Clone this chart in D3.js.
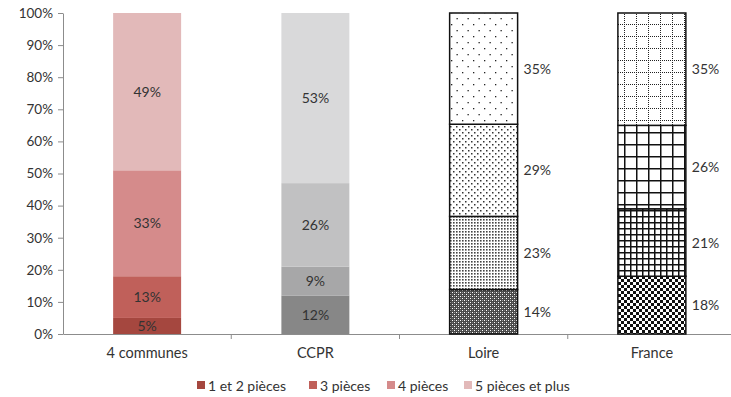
<!DOCTYPE html>
<html>
<head>
<meta charset="utf-8">
<script src="https://cdn.jsdelivr.net/npm/d3@7/dist/d3.min.js"></script>
<style>
  html, body { margin: 0; padding: 0; background: #fff; }
  svg { display: block; font-family: Lato, "Open Sans", sans-serif; }
</style>
</head>
<body>
<svg id="chart" width="731" height="397"></svg>
<script>
// Répartition des résidences principales selon le nombre de pièces
const categories = ["4 communes", "CCPR", "Loire", "France"];
const series = ["1 et 2 pièces", "3 pièces", "4 pièces", "5 pièces et plus"];
const v12 = [5, 12, 14, 18];
const v3 = [13, 9, 23, 21];
const v4 = [33, 26, 29, 26];
const v5 = [49, 53, 35, 35];
const yTicks = [0, 0.1, 0.2, 0.3, 0.4, 0.5, 0.6, 0.7, 0.8, 0.9, 1];

const legendColors = ["#a5473f", "#c0605a", "#d58b8b", "#e2b9b9"];
const grayColors = ["#878787", "#a7a7a8", "#c1c1c2", "#d9d9da"];

const svg = d3.select("#chart");
const W = 731, H = 397;
const margin = { left: 63, right: -5, top: 13, bottom: 63 };

const rows = categories.map((c, i) => ({
  cat: c, s0: v12[i], s1: v3[i], s2: v4[i], s3: v5[i]
}));
const keys = ["s0", "s1", "s2", "s3"];
const stacked = d3.stack().keys(keys).offset(d3.stackOffsetExpand)(rows);

const x = d3.scaleBand().domain(categories)
  .range([margin.left, W - margin.right])
  .paddingInner(0.596).paddingOuter(0.298);
const y = d3.scaleLinear().domain([0, 1]).range([H - margin.bottom, margin.top]);

// ---- patterns used for the Loire and France bars ----
const defs = svg.append("defs");
function pat(id, w, h, draw) {
  const p = defs.append("pattern").attr("id", id)
    .attr("patternUnits", "userSpaceOnUse").attr("width", w).attr("height", h);
  p.append("rect").attr("width", w).attr("height", h).attr("fill", "#fff");
  draw(p);
}
function dot(p, x0, y0, s, c) {
  p.append("rect").attr("x", x0).attr("y", y0).attr("width", s).attr("height", s).attr("fill", c);
}
// Loire
pat("lo0", 4, 4, p => {
  p.append("rect").attr("width", 4).attr("height", 4).attr("fill", "#4a4a4a");
  dot(p, 0, 0, 1, "#fff");
  dot(p, 2, 2, 1, "#fff");
  dot(p, 2, 0, 1, "#999");
  dot(p, 0, 2, 1, "#777");
});
pat("lo1", 3, 3, p => {
  dot(p, 0, 0, 1.6, "#444");
});
pat("lo2", 6, 6, p => {
  dot(p, 0, 0, 1.5, "#333");
  dot(p, 3, 3, 1.5, "#333");
});
pat("lo3", 11, 12, p => {
  dot(p, 0, 0, 1.3, "#222");
  dot(p, 5.5, 6, 1.3, "#222");
});
// France
pat("fr0", 6, 6, p => {
  dot(p, 0, 0, 3, "#111");
  dot(p, 3, 3, 3, "#111");
});
pat("fr1", 6, 6, p => {
  p.append("rect").attr("x", 0).attr("y", 0).attr("width", 6).attr("height", 1.5).attr("fill", "#111");
  p.append("rect").attr("x", 0).attr("y", 0).attr("width", 1.5).attr("height", 6).attr("fill", "#111");
});
pat("fr2", 12, 12, p => {
  p.append("rect").attr("x", 0).attr("y", 0).attr("width", 12).attr("height", 1.5).attr("fill", "#111");
  p.append("rect").attr("x", 0).attr("y", 0).attr("width", 1.5).attr("height", 12).attr("fill", "#111");
});
pat("fr3", 12, 12, p => {
  for (let k = 0; k < 12; k += 2) {
    dot(p, k, 0, 1, "#222");
    dot(p, 0, k, 1, "#222");
  }
});

function fillFor(cat, si) {
  if (cat === "4 communes") return legendColors[si];
  if (cat === "CCPR") return grayColors[si];
  if (cat === "Loire") return `url(#lo${si})`;
  return `url(#fr${si})`;
}
const outlined = c => c === "Loire" || c === "France";

// ---- axes ----
const axisColor = "#8c8c8c";
const yAxis = svg.append("g").attr("transform", `translate(${margin.left},0)`)
  .call(d3.axisLeft(y).tickValues(yTicks).tickFormat(d3.format(".0%")).tickSize(5).tickSizeOuter(0));
yAxis.select(".domain").attr("stroke", axisColor);
yAxis.selectAll(".tick line").attr("stroke", axisColor);
yAxis.selectAll(".tick text").attr("fill", "#333").attr("font-size", 13.5)
  .attr("font-family", "Lato, 'Open Sans', sans-serif").attr("x", -10);

const xAxis = svg.append("g").attr("transform", `translate(0,${y(0)})`)
  .call(d3.axisBottom(x).tickSize(0).tickSizeOuter(0));
xAxis.select(".domain").attr("stroke", axisColor);
xAxis.selectAll(".tick text").attr("fill", "#333").attr("font-size", 14.5)
  .attr("font-family", "Lato, 'Open Sans', sans-serif").attr("dy", "1.45em");
// boundary ticks between categories
xAxis.selectAll(".sep").data(categories.slice(1)).enter().append("line")
  .attr("class", "sep")
  .attr("x1", d => x(d) - x.step() * x.paddingInner() / 2)
  .attr("x2", d => x(d) - x.step() * x.paddingInner() / 2)
  .attr("y1", 0).attr("y2", 5).attr("stroke", axisColor);

// ---- bars ----
const layers = svg.append("g").selectAll("g").data(stacked).enter().append("g");
layers.each(function (layer, si) {
  const g = d3.select(this);
  g.selectAll("rect").data(layer).enter().append("rect")
    .attr("x", d => x(d.data.cat))
    .attr("width", x.bandwidth())
    .attr("y", d => y(d[1]))
    .attr("height", d => y(d[0]) - y(d[1]))
    .attr("fill", d => fillFor(d.data.cat, si))
    .attr("stroke", d => outlined(d.data.cat) ? "#111" : "none")
    .attr("stroke-width", 1.5);
});

// ---- value labels ----
const labG = svg.append("g").attr("font-size", 14).attr("fill", "#333");
stacked.forEach((layer, si) => {
  layer.forEach(d => {
    const cat = d.data.cat;
    const val = d.data[keys[si]];
    const cy = (y(d[0]) + y(d[1])) / 2;
    const inside = !outlined(cat);
    labG.append("text")
      .attr("x", inside ? x(cat) + x.bandwidth() / 2 : x(cat) + x.bandwidth() + 6)
      .attr("y", cy)
      .attr("dy", "0.36em")
      .attr("text-anchor", inside ? "middle" : "start")
      .text(val + "%");
  });
});

// ---- legend ----
const legendX = [197, 309, 387, 464];
const leg = svg.append("g").attr("transform", "translate(0,386)");
series.forEach((s, i) => {
  leg.append("rect").attr("x", legendX[i]).attr("y", -5).attr("width", 8).attr("height", 8)
    .attr("fill", legendColors[i]);
  leg.append("text").attr("x", legendX[i] + 11).attr("y", 0).attr("dy", "0.36em")
    .attr("font-size", 14).attr("fill", "#333").text(s);
});
</script>
</body>
</html>
